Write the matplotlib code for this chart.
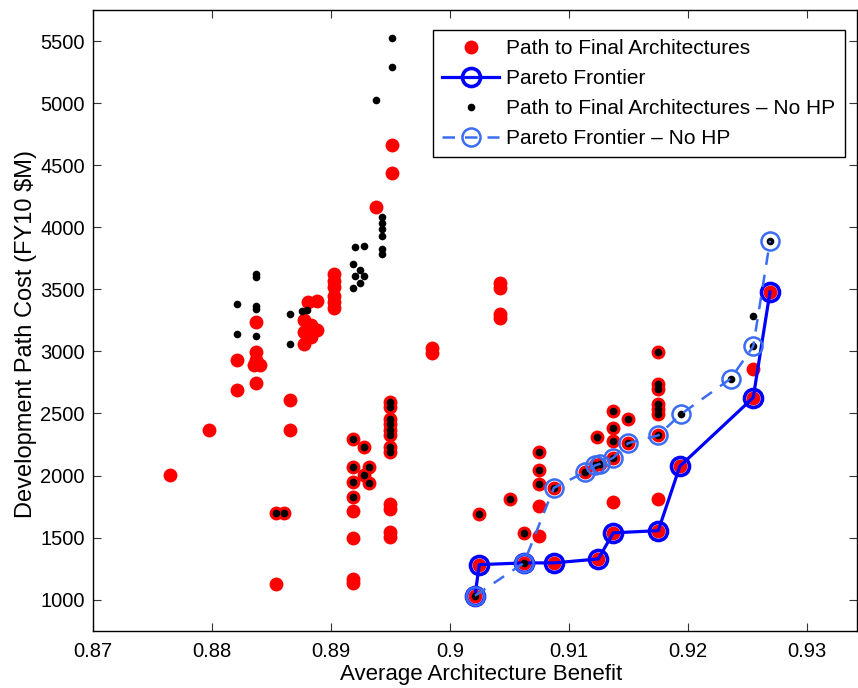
import matplotlib
matplotlib.use("Agg")
import matplotlib.pyplot as plt
from matplotlib.ticker import FixedLocator, FuncFormatter

plt.rcParams['font.family'] = ['Liberation Sans', 'DejaVu Sans']

# Path to Final Architectures (red)
red_x = [0.87647, 0.87972, 0.88208, 0.88208,
         0.8837, 0.8837, 0.8837, 0.8835, 0.8840, 0.8837,
         0.88533, 0.88533, 0.88600, 0.8865, 0.8865,
         0.88805, 0.8888, 0.88775, 0.8883, 0.8888, 0.88775, 0.8883, 0.88775,
         0.89025, 0.89025, 0.89025, 0.89025, 0.89025, 0.89025,
         0.89182, 0.89182, 0.89182, 0.89182, 0.89182, 0.89182, 0.89182, 0.89182,
         0.89277, 0.89277, 0.89314, 0.89314, 0.89376,
         0.89491, 0.89491, 0.89491, 0.89491, 0.89491, 0.89491, 0.89491, 0.89491,
         0.89491, 0.89491, 0.89491, 0.89491, 0.89507, 0.89507,
         0.8985, 0.8985, 0.90418, 0.90418, 0.90418, 0.90418,
         0.90208, 0.90244, 0.90244, 0.90502, 0.90619, 0.90619,
         0.90748, 0.90748, 0.90748, 0.90748, 0.90748,
         0.90871, 0.90871, 0.91132, 0.91216, 0.91258, 0.9123, 0.91244,
         0.9137, 0.9137, 0.9137, 0.9137, 0.9137, 0.9137, 0.91496, 0.91496,
         0.91748, 0.91748, 0.91748, 0.91748, 0.91748, 0.91748, 0.91748, 0.91748, 0.91748,
         0.9193, 0.92546, 0.92546, 0.92687]
red_y = [2005, 2363, 2927, 2685,
         3234, 2994, 2927, 2887, 2887, 2744,
         1702, 1127, 1702, 2610, 2369,
         3398, 3403, 3250, 3210, 3169, 3156, 3115, 3062,
         3620, 3570, 3520, 3450, 3400, 3350,
         2296, 2067, 1946, 1825, 1718, 1494, 1167, 1131,
         2229, 2006, 2067, 1938, 4159,
         2592, 2551, 2457, 2417, 2363, 2323, 2228, 2188,
         1772, 1731, 1543, 1502, 4659, 4433,
         3030, 2990, 3550, 3510, 3305, 3270,
         1032, 1282, 1691, 1809, 1538, 1296,
         2188, 2048, 1933, 1758, 1516,
         1296, 1901, 2027, 2081, 2094, 2309, 1328,
         2519, 2381, 2282, 2143, 1785, 1538, 2457, 2261,
         2994, 2740, 2699, 2578, 2538, 2498, 2323, 1812, 1556,
         2075, 2860, 2627, 3478]

# Pareto Frontier (solid)
par_x = [0.90208, 0.90244, 0.90619, 0.90871, 0.91244, 0.9137, 0.91748, 0.9193, 0.92546, 0.92687]
par_y = [1032, 1282, 1296, 1296, 1328, 1538, 1556, 2075, 2627, 3478]

# Path to Final Architectures - No HP (black)
blk_x = [0.89513, 0.89513, 0.89376,
         0.89423, 0.89423, 0.89423, 0.89423, 0.89423, 0.89423,
         0.89199, 0.89275, 0.89182, 0.89241, 0.89202, 0.89275, 0.89241, 0.89182,
         0.8837, 0.8837, 0.88208, 0.8837, 0.8837, 0.8865, 0.88751, 0.88796,
         0.88208, 0.8837, 0.8865,
         0.88533, 0.88600,
         0.89182, 0.89182, 0.89182, 0.89182,
         0.89277, 0.89277, 0.89314, 0.89314,
         0.89491, 0.89491, 0.89491, 0.89491, 0.89491, 0.89491, 0.89491, 0.89491,
         0.90208, 0.90244, 0.90502, 0.90619, 0.90619,
         0.90748, 0.90748, 0.90748,
         0.90871, 0.91132, 0.91216, 0.91258, 0.9123,
         0.9137, 0.9137, 0.9137, 0.9137, 0.91496, 0.91496,
         0.91748, 0.91748, 0.91748, 0.91748, 0.91748, 0.91748, 0.91748,
         0.91936, 0.92356, 0.92546, 0.92546, 0.92687]
blk_y = [5527, 5293, 5022,
         4083, 4038, 3987, 3930, 3828, 3788,
         3841, 3847, 3702, 3659, 3605, 3605, 3551, 3514,
         3620, 3600, 3379, 3368, 3340, 3298, 3325, 3330,
         3137, 3123, 3056,
         1702, 1702,
         2296, 2067, 1946, 1825,
         2229, 2006, 2067, 1938,
         2592, 2551, 2457, 2417, 2363, 2323, 2228, 2188,
         1032, 1691, 1809, 1538, 1296,
         2188, 2048, 1933,
         1901, 2027, 2081, 2094, 2309,
         2519, 2381, 2282, 2143, 2457, 2261,
         2994, 2740, 2699, 2578, 2538, 2498, 2323,
         2492, 2780, 3040, 3282, 3890]

# Pareto Frontier - No HP (dashed)
pnh_x = [0.90208, 0.90619, 0.90871, 0.91132, 0.91216, 0.91258, 0.9137, 0.91496,
         0.91748, 0.91936, 0.92356, 0.92546, 0.92687]
pnh_y = [1032, 1296, 1901, 2027, 2081, 2094, 2143, 2261,
         2323, 2492, 2780, 3040, 3890]

x_ticks = [0.87, 0.88, 0.89, 0.90, 0.91, 0.92, 0.93]
y_ticks = [1000, 1500, 2000, 2500, 3000, 3500, 4000, 4500, 5000, 5500]

fig = plt.figure(figsize=(8.58, 6.88), dpi=100)
ax = fig.add_axes([0.1087, 0.0833, 0.8901, 0.9022])

ax.plot(red_x, red_y, 'o', color='red', markersize=10, markeredgewidth=0,
        label='Path to Final Architectures')
ax.plot(par_x, par_y, '-o', color='#0000ff', linewidth=2.3, markersize=13,
        markerfacecolor='none', markeredgewidth=2.6, label='Pareto Frontier')
ax.plot(blk_x, blk_y, 'o', color='black', markersize=5.5, markeredgewidth=0,
        label='Path to Final Architectures \u2013 No HP')
ax.plot(pnh_x, pnh_y, '--o', color='#3a6cf4', linewidth=1.8, markersize=13,
        markerfacecolor='none', markeredgewidth=1.8, dashes=(5, 4),
        label='Pareto Frontier \u2013 No HP')

ax.set_xlim(0.87, 0.93418)
ax.set_ylim(750, 5750)
ax.xaxis.set_major_locator(FixedLocator(x_ticks))
ax.yaxis.set_major_locator(FixedLocator(y_ticks))
ax.xaxis.set_major_formatter(FuncFormatter(lambda v, p: f"{v:g}"))
ax.yaxis.set_major_formatter(FuncFormatter(lambda v, p: f"{int(v)}"))
ax.tick_params(direction='in', top=True, right=True, labelsize=14.5, length=6,
               width=0.8, colors='#333333', labelcolor='black', pad=6)
ax.tick_params(axis='x', pad=8)
for s in ax.spines.values():
    s.set_linewidth(1.0)
ax.set_xlabel('Average Architecture Benefit', fontsize=16)
ax.set_ylabel('Development Path Cost (FY10 \\$M)', fontsize=17)
# label centres in axes coordinates
ax.xaxis.set_label_coords(0.5085, -0.0705, transform=ax.transAxes)
ax.yaxis.set_label_coords(-0.088, 0.4775, transform=ax.transAxes)
ax.xaxis.label.set_verticalalignment('center')
ax.yaxis.label.set_verticalalignment('center')

leg = ax.legend(loc='upper right', bbox_to_anchor=(0.9843, 0.9678), fontsize=15,
                frameon=True, fancybox=False, edgecolor='black', framealpha=1,
                handlelength=2.75, borderpad=0.45, labelspacing=0.52, handletextpad=0.35,
                borderaxespad=0.0, numpoints=1)
leg.get_frame().set_linewidth(1.0)

fig.savefig('out.png', dpi=100)
